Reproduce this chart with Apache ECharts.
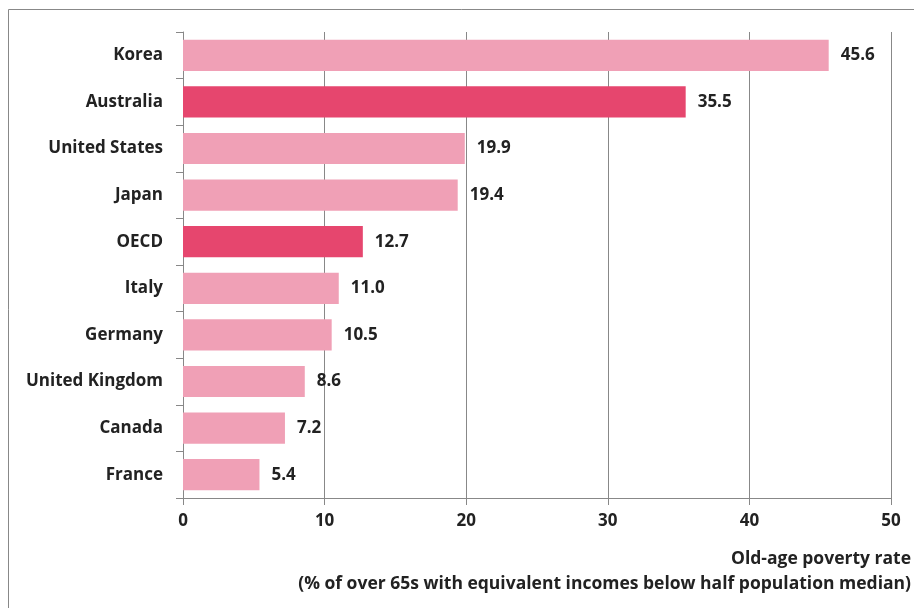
<!DOCTYPE html>
<html><head><meta charset="utf-8">
<script src="https://cdn.jsdelivr.net/npm/echarts@6/dist/echarts.min.js"></script>
<style>html,body{margin:0;padding:0;background:#fff}#c{width:914px;height:608px}</style>
</head><body><div id="c"></div>
<script>
const categories = ["Korea","Australia","United States","Japan","OECD","Italy","Germany","United Kingdom","Canada","France"];
const values = [45.6,35.5,19.9,19.4,12.7,11.0,10.5,8.6,7.2,5.4];
const highlighted = ["Australia","OECD"];
const xTicks = [0,10,20,30,40,50];
const axisTitle = ["Old-age poverty rate","(% of over 65s with equivalent incomes below half population median)"];

const FONT = '"Open Sans", "Noto Sans", sans-serif';
const chart = echarts.init(document.getElementById('c'));
chart.setOption({
  animation:false,
  grid:{left:183,right:23,top:32,bottom:110,containLabel:false},
  xAxis:{type:'value',min:xTicks[0],max:xTicks[xTicks.length-1],interval:10,
    axisLine:{show:true,lineStyle:{color:'#888',width:1}},
    axisTick:{show:true,length:7,lineStyle:{color:'#888'}},
    splitLine:{show:true,lineStyle:{color:'#888',width:1}},
    axisLabel:{color:'#222',fontFamily:FONT,fontWeight:'bold',fontSize:17,margin:15}},
  yAxis:{type:'category',inverse:true,data:categories,
    axisLine:{show:true,lineStyle:{color:'#888'}},
    axisTick:{show:true,length:7,lineStyle:{color:'#888'}},
    axisLabel:{color:'#222',fontFamily:FONT,fontWeight:'bold',fontSize:17,margin:20}},
  series:[{type:'bar',barCategoryGap:'33%',
    data:values.map((v,i)=>({value:v,itemStyle:{color:highlighted.includes(categories[i])?'#E6466E':'#F0A0B6'}})),
    label:{show:true,position:'right',distance:12,color:'#222',fontFamily:FONT,fontWeight:'bold',fontSize:17,
      formatter:p=>p.value.toFixed(1)}}],
  graphic:[
    {type:'rect',shape:{x:8.5,y:9.5,width:930,height:640},style:{fill:'none',stroke:'#888',lineWidth:1},silent:true},
    {type:'text',right:3,top:550,style:{text:axisTitle[0],font:'bold 17.5px '+FONT,fill:'#222',align:'right'}},
    {type:'text',right:3,top:575,style:{text:axisTitle[1],font:'bold 17.5px '+FONT,fill:'#222',align:'right'}}
  ]
});
</script></body></html>
